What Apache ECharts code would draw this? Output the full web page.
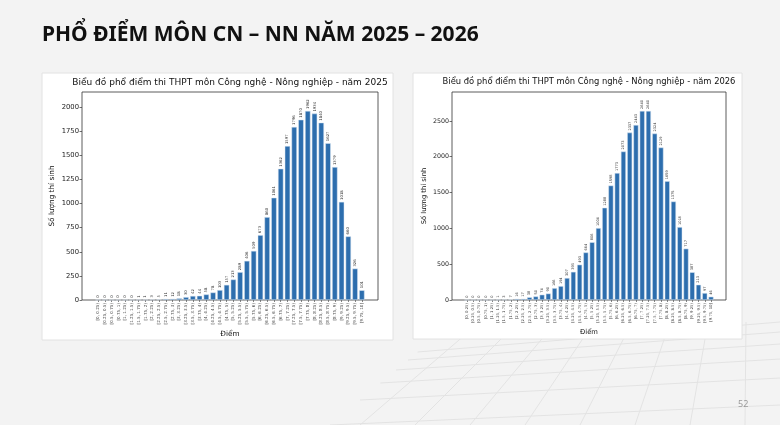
<!DOCTYPE html>
<html>
<head>
<meta charset="utf-8">
<script src="https://cdn.jsdelivr.net/npm/echarts@6/dist/echarts.min.js"></script>
<style>
  html, body { margin: 0; padding: 0; background: #f3f3f3; }
  #chart { width: 780px; height: 425px; }
</style>
</head>
<body>
<div id="chart"></div>
<script>
var binLabels = [
    '[0, 0.25)', '[0.25, 0.5)', '[0.5, 0.75)', '[0.75, 1)',
    '[1, 1.25)', '[1.25, 1.5)', '[1.5, 1.75)', '[1.75, 2)',
    '[2, 2.25)', '[2.25, 2.5)', '[2.5, 2.75)', '[2.75, 3)',
    '[3, 3.25)', '[3.25, 3.5)', '[3.5, 3.75)', '[3.75, 4)',
    '[4, 4.25)', '[4.25, 4.5)', '[4.5, 4.75)', '[4.75, 5)',
    '[5, 5.25)', '[5.25, 5.5)', '[5.5, 5.75)', '[5.75, 6)',
    '[6, 6.25)', '[6.25, 6.5)', '[6.5, 6.75)', '[6.75, 7)',
    '[7, 7.25)', '[7.25, 7.5)', '[7.5, 7.75)', '[7.75, 8)',
    '[8, 8.25)', '[8.25, 8.5)', '[8.5, 8.75)', '[8.75, 9)',
    '[9, 9.25)', '[9.25, 9.5)', '[9.5, 9.75)', '[9.75, 10]'
];

var counts2025 = [
    0, 0, 0, 0, 0, 0, 1, 1, 3, 5,
    11, 12, 18, 30, 42, 44, 58, 78, 103, 157,
    213, 289, 406, 509, 673, 860, 1061, 1362, 1597, 1796,
    1870, 1962, 1934, 1840, 1627, 1379, 1018, 660, 326, 101
];

var counts2026 = [
    0, 0, 0, 0, 0, 1, 3, 7, 16, 17,
    38, 50, 74, 90, 166, 194, 307, 393, 493, 664,
    806, 1004, 1288, 1598, 1773, 2073, 2337, 2443, 2640, 2640,
    2324, 2129, 1659, 1375, 1018, 717, 387, 213, 97, 46
];

var mainTitle = 'PHỔ ĐIỂM MÔN CN – NN NĂM 2025 – 2026';
var chartTitles = [
    'Biểu đồ phổ điểm thi THPT môn Công nghệ - Nông nghiệp - năm 2025',
    'Biểu đồ phổ điểm thi THPT môn Công nghệ - Nông nghiệp - năm 2026'
];
var yMaxes = [2158, 2904];
var ySteps = [250, 500];

var myChart = echarts.init(document.getElementById('chart'));

// each panel: white image box + axes box (matplotlib look)
var panels = [
    { img: [42, 73, 351, 267], box: [82, 92, 296, 208], s: 1 },
    { img: [413, 73, 329, 266], box: [452, 92, 274, 208], s: 0.93 }
];
var seriesData = [counts2025, counts2026];

var grid = [], xAxis = [], yAxis = [], series = [], titles = [], graphic = [];
var font = 'DejaVu Sans';

titles.push({
    text: mainTitle, left: 42, top: 25, padding: 0,
    textStyle: { fontFamily: 'Noto Sans', fontSize: 21, fontWeight: 'bold', color: '#111' }
});
titles.push({
    text: '52', left: 738, top: 400, padding: 0,
    textStyle: { fontFamily: 'Noto Sans', fontSize: 9, fontWeight: 'normal', color: '#999' }
});

// faint perspective floor in the lower right of the slide
var floorRows = [352, 360, 370, 383, 400, 425];
floorRows.forEach(function(y, i) {
    graphic.push({
        type: 'line', z: -20, silent: true,
        shape: { x1: 330 + (425 - y) * 1.2, y1: y, x2: 780, y2: y - 30 + i * 2 },
        style: { stroke: '#e3e3e3', lineWidth: 1 }
    });
});
for (var c = 0; c < 9; c++) {
    graphic.push({
        type: 'line', z: -20, silent: true,
        shape: { x1: 360 + c * 55, y1: 425, x2: 480 + c * 38, y2: 322 },
        style: { stroke: '#e3e3e3', lineWidth: 1 }
    });
}

panels.forEach(function(p, k) {
    var b = p.box, s = p.s;
    // matplotlib margins: 0.05 of [-0.4, 39.4]
    var unit = b[2] / 43.78;
    var innerLeft = b[0] + 1.89 * unit;
    var innerWidth = 40 * unit;

    graphic.push({
        type: 'rect', z: -10, silent: true,
        shape: { x: p.img[0], y: p.img[1], width: p.img[2], height: p.img[3] },
        style: { fill: '#fff', stroke: '#e2e2e2', lineWidth: 1 }
    });

    titles.push({
        text: chartTitles[k], padding: 0,
        left: b[0] + b[2] / 2, top: 78, textAlign: 'center',
        textStyle: { fontFamily: font, fontSize: 9 * s, fontWeight: 'normal', color: '#111' }
    });

    // outer grid: frame + y axis
    grid.push({ left: b[0], top: b[1], width: b[2], height: b[3], show: true,
        borderColor: '#333', borderWidth: 0.8, backgroundColor: 'transparent' });
    // inner grid: bars on categories
    grid.push({ left: innerLeft, top: b[1], width: innerWidth, height: b[3] });

    xAxis.push({ type: 'value', gridIndex: 2 * k, show: false, min: 0, max: 1 });
    xAxis.push({
        type: 'category', gridIndex: 2 * k + 1, data: binLabels,
        name: 'Điểm', nameLocation: 'middle', nameGap: 31 * s,
        nameTextStyle: { fontFamily: font, fontSize: 7.3 * s, color: '#111' },
        axisLine: { show: false },
        axisTick: { show: true, alignWithLabel: true, length: 2, lineStyle: { color: '#333', width: 0.6 } },
        axisLabel: { interval: 0, rotate: 90, fontFamily: font, fontSize: 4.1 * s, color: '#444', margin: 3 }
    });

    yAxis.push({
        type: 'value', gridIndex: 2 * k, min: 0, max: yMaxes[k], interval: ySteps[k],
        name: 'Số lượng thí sinh', nameLocation: 'middle', nameGap: 26 * s, nameRotate: 90,
        nameTextStyle: { fontFamily: font, fontSize: 7.3 * s, color: '#111' },
        axisLine: { show: false },
        axisTick: { show: true, length: 2.5, lineStyle: { color: '#333', width: 0.7 } },
        splitLine: { show: false },
        axisLabel: {
            showMaxLabel: false, fontFamily: font, fontSize: 6.8 * s, color: '#222', margin: 3,
            formatter: function(v) { return v % ySteps[k] === 0 ? String(v) : ''; }
        }
    });
    yAxis.push({ type: 'value', gridIndex: 2 * k + 1, min: 0, max: yMaxes[k], show: false });

    series.push({
        type: 'bar', xAxisIndex: 2 * k + 1, yAxisIndex: 2 * k + 1,
        data: seriesData[k], barWidth: '80%',
        itemStyle: { color: '#2d6eae', borderColor: '#dbe7f3', borderWidth: 0.5 },
        label: {
            show: true, position: 'top', rotate: 90, align: 'left', verticalAlign: 'middle',
            distance: 2, fontFamily: font, fontSize: 3.8 * s, color: '#333'
        }
    });
});

var option = {
    backgroundColor: '#f3f3f3',
    animation: false,
    title: titles,
    graphic: graphic,
    grid: grid,
    xAxis: xAxis,
    yAxis: yAxis,
    series: series
};

myChart.setOption(option);
</script>
</body>
</html>
